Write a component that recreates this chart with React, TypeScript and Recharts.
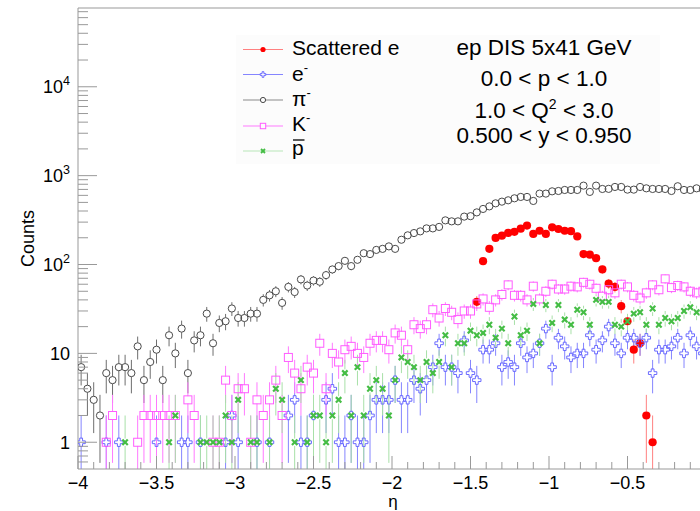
import React from 'react';
import { ScatterChart, Scatter, XAxis, YAxis, ErrorBar, ReferenceLine } from 'recharts';

// histogram binning: 100 bins of width 0.04 in eta, from -4 to 0
const etaCenters: number[] = Array.from({ length: 100 }, (_, i) => Number((-3.98 + 0.04 * i).toFixed(2)));

const scatteredE = [
  0, 0, 0, 0, 0, 0, 0, 0, 0, 0,
  0, 0, 0, 0, 0, 0, 0, 0, 0, 0,
  0, 0, 0, 0, 0, 0, 0, 0, 0, 0,
  0, 0, 0, 0, 0, 0, 0, 0, 0, 0,
  0, 0, 0, 0, 0, 0, 0, 0, 0, 0,
  0, 0, 0, 0, 0, 0, 0, 0, 0, 0,
  0, 0, 0, 38, 109, 150, 199, 211, 227, 233,
  253, 274, 221, 240, 221, 262, 251, 240, 237, 207,
  131, 129, 118, 88, 61, 56, 34, 23, 11, 13,
  2, 1, 0, 0, 0, 0, 0, 0, 0, 0,
];

const electrons = [
  1, 0, 0, 0, 1, 0, 1, 0, 0, 0,
  0, 0, 1, 0, 0, 0, 1, 1, 0, 1,
  0, 0, 0, 1, 2, 1, 0, 0, 1, 0,
  1, 0, 0, 2, 3, 1, 1, 2, 0, 3,
  4, 1, 1, 2, 1, 1, 2, 3, 3, 3,
  5, 3, 3, 5, 4, 5, 7, 13, 7, 7,
  6, 14, 6, 5, 11, 11, 13, 7, 8, 7,
  13, 9, 10, 13, 19, 7, 15, 12, 9, 10,
  10, 16, 11, 14, 20, 13, 10, 15, 15, 13,
  15, 6, 11, 11, 12, 15, 10, 16, 12, 10,
];

const pions = [
  7, 4, 3, 2, 6, 5, 7, 7, 6, 12,
  5, 8, 11, 5, 16, 10, 19, 6, 14, 16,
  28, 13, 22, 23, 32, 25, 25, 28, 28, 40,
  45, 50, 37, 56, 49, 68, 58, 66, 64, 76,
  88, 96, 110, 96, 113, 134, 131, 146, 150, 160,
  150, 190, 213, 226, 236, 255, 255, 265, 314, 306,
  306, 346, 350, 386, 422, 451, 488, 510, 528, 556,
  576, 576, 519, 628, 628, 666, 672, 690, 690, 690,
  772, 656, 772, 708, 710, 746, 746, 696, 696, 746,
  720, 708, 708, 708, 672, 760, 690, 690, 720, 700,
];

const kaons = [
  0, 0, 0, 0, 1, 2, 0, 0, 0, 1,
  2, 2, 2, 2, 2, 2, 0, 3, 2, 0,
  0, 1, 1, 5, 2, 4, 4, 1, 3, 2,
  3, 5, 2, 9, 6, 4, 7, 6, 13, 4,
  10, 8, 11, 12, 10, 9, 13, 14, 14, 11,
  17, 16, 11, 21, 19, 21, 31, 25, 32, 29,
  24, 30, 30, 36, 41, 33, 40, 46, 59, 45,
  45, 40, 57, 41, 50, 60, 53, 53, 57, 56,
  63, 60, 54, 44, 52, 48, 60, 56, 45, 42,
  48, 59, 52, 69, 55, 58, 56, 50, 48, 50,
];

const antiprotons = [
  0, 0, 0, 0, 0, 0, 0, 1, 0, 0,
  0, 0, 0, 0, 1, 2, 0, 0, 0, 1,
  1, 1, 1, 2, 1, 3, 0, 1, 1, 0,
  1, 4, 3, 0, 1, 5, 1, 2, 2, 1,
  2, 3, 6, 2, 7, 2, 4, 5, 4, 2,
  5, 9, 8, 7, 5, 8, 6, 8, 16, 7,
  13, 13, 18, 16, 17, 21, 15, 19, 13, 26,
  16, 18, 36, 13, 35, 22, 35, 24, 21, 31,
  29, 21, 40, 38, 38, 21, 20, 23, 28, 29,
  21, 32, 21, 25, 23, 25, 30, 33, 29, 28,
];

const xTicks: number[] = Array.from({ length: 41 }, (_, i) => Number((-4 + i * 0.1).toFixed(1)));
const yTicks: number[] = (() => {
  const t: number[] = [0.6, 0.7, 0.8, 0.9];
  [1, 10, 100, 1000].forEach((d) => {
    for (let k = 1; k <= 9; k++) t.push(k * d);
  });
  for (let k = 1; k <= 7; k++) t.push(k * 10000);
  return t;
})();

const Y_MIN = 0.5;
const Y_MAX = 77000;
const GAP = 1.1; // marker half-size in log units, error bars stop at the marker edge
const FONT = '"Liberation Sans", Arial, Helvetica, sans-serif';
const AXIS = '#999999';

type Pt = { x: number; y: number; e?: [number, number] };

const points = (vals: number[]): Pt[] =>
  vals.map((v, i) => ({ x: etaCenters[i], y: v })).filter((p) => p.y > 0);

const errUp = (vals: number[]): Pt[] => {
  const out: Pt[] = [];
  vals.forEach((v, i) => {
    if (v <= 0) return;
    const start = v * GAP;
    const end = v + Math.sqrt(v);
    if (end > start) out.push({ x: etaCenters[i], y: start, e: [0, end - start] });
  });
  return out;
};

const errDown = (vals: number[]): Pt[] => {
  const out: Pt[] = [];
  vals.forEach((v, i) => {
    if (v <= 0) return;
    const start = v / GAP;
    const end = Math.max(v - Math.sqrt(v), Y_MIN);
    if (end < start) out.push({ x: etaCenters[i], y: start, e: [start - end, 0] });
  });
  return out;
};

const Empty = () => <g />;

const RedDot = (p: any) => <circle cx={p.cx} cy={p.cy} r={4.1} fill="#ff0000" />;
const OpenCircle = (p: any) => (
  <circle cx={p.cx} cy={p.cy} r={3.6} fill="none" stroke="#4a4a4a" strokeWidth={1} />
);
const crossPath = (x: number, y: number, a: number, w: number) =>
  `M${x - w},${y - a}L${x + w},${y - a}L${x + w},${y - w}L${x + a},${y - w}L${x + a},${y + w}L${x + w},${y + w}L${x + w},${y + a}L${x - w},${y + a}L${x - w},${y + w}L${x - a},${y + w}L${x - a},${y - w}L${x - w},${y - w}Z`;
const OpenCross = (p: any) => (
  <path d={crossPath(p.cx, p.cy, 4.2, 1.4)} fill="none" stroke="#6b6bff" strokeWidth={1} />
);
const OpenSquare = (p: any) => (
  <rect x={p.cx - 4} y={p.cy - 4} width={8} height={8} fill="none" stroke="#ff5cff" strokeWidth={1} />
);
const FilledX = (p: any) => (
  <g stroke="#45bd45" strokeWidth={2.2}>
    <line x1={p.cx - 2.7} y1={p.cy - 2.7} x2={p.cx + 2.7} y2={p.cy + 2.7} />
    <line x1={p.cx - 2.7} y1={p.cy + 2.7} x2={p.cx + 2.7} y2={p.cy - 2.7} />
  </g>
);

const fmtX = (v: number) => {
  const s = String(Number(v.toFixed(1)));
  return s.replace('-', '\u2212');
};

const XTick = (props: any) => {
  const { x, y, payload } = props;
  const v = payload.value as number;
  const major = Math.abs(v * 2 - Math.round(v * 2)) < 1e-6;
  const len = major ? 13 : 7;
  const showLabel = major && v < -0.01;
  return (
    <g>
      <line x1={x} x2={x} y1={y} y2={y - len} stroke={AXIS} strokeWidth={1} />
      {showLabel && (
        <text x={x} y={y + 20} textAnchor="middle" fontSize={18} fill="#000" fontFamily={FONT}>
          {fmtX(v)}
        </text>
      )}
    </g>
  );
};

const YTick = (props: any) => {
  const { x, y, payload } = props;
  const v = payload.value as number;
  const lg = Math.log10(v);
  const n = Math.round(lg);
  const major = Math.abs(lg - n) < 1e-9;
  const len = major ? 19 : 10;
  return (
    <g>
      <line x1={x} x2={x + len} y1={y} y2={y} stroke={AXIS} strokeWidth={1} />
      {major && (
        <text x={x - 8} y={y + 6.5} textAnchor="end" fontSize={18} fill="#000" fontFamily={FONT}>
          {n === 0 ? '1' : n === 1 ? '10' : (
            <>
              10
              <tspan dy={-8} fontSize={12.5}>{n}</tspan>
            </>
          )}
        </text>
      )}
    </g>
  );
};

type Series = { name: string; values: number[]; err: string; shape: any };
const series: Series[] = [
  { name: 'Scattered e', values: scatteredE, err: '#ff8080', shape: RedDot },
  { name: 'e-', values: electrons, err: '#8585ff', shape: OpenCross },
  { name: 'pi-', values: pions, err: '#6e6e6e', shape: OpenCircle },
  { name: 'K-', values: kaons, err: '#ff7aff', shape: OpenSquare },
  { name: 'pbar', values: antiprotons, err: '#a8e0a8', shape: FilledX },
];

export default function App() {
  return (
    <div
      style={{
        position: 'fixed',
        left: 0,
        top: 0,
        width: 700,
        height: 511,
        overflow: 'hidden',
        background: '#fff',
      }}
    >
      <ScatterChart width={720} height={511} margin={{ top: 8, right: 14, bottom: 0, left: 8 }}>
        <XAxis
          type="number"
          dataKey="x"
          domain={[-4, 0]}
          ticks={xTicks}
          interval={0}
          allowDataOverflow
          height={42}
          tickSize={0}
          tickMargin={0}
          tickLine={false}
          axisLine={{ stroke: AXIS }}
          tick={<XTick />}
        />
        <YAxis
          type="number"
          dataKey="y"
          scale="log"
          domain={[Y_MIN, Y_MAX]}
          ticks={yTicks}
          interval={0}
          allowDataOverflow
          width={70}
          tickSize={0}
          tickMargin={0}
          tickLine={false}
          axisLine={{ stroke: AXIS }}
          tick={<YTick />}
        />
        <ReferenceLine y={Y_MAX} stroke={AXIS} />
        {series.map((s) => [
          <Scatter
            key={s.name + '-up'}
            data={errUp(s.values)}
            shape={Empty}
            isAnimationActive={false}
          >
            <ErrorBar dataKey="e" direction="y" width={0} stroke={s.err} strokeWidth={1} isAnimationActive={false} />
          </Scatter>,
          <Scatter
            key={s.name + '-down'}
            data={errDown(s.values)}
            shape={Empty}
            isAnimationActive={false}
          >
            <ErrorBar dataKey="e" direction="y" width={0} stroke={s.err} strokeWidth={1} isAnimationActive={false} />
          </Scatter>,
          <Scatter key={s.name} data={points(s.values)} shape={s.shape} isAnimationActive={false} />,
        ])}
      </ScatterChart>
      <svg
        width={700}
        height={511}
        style={{ position: 'absolute', left: 0, top: 0, pointerEvents: 'none' }}
        fontFamily={FONT}
      >
        <rect x={236} y={35} width={424} height={129} fill="#fcfcfc" />
        {/* legend */}
        <g>
          <line x1={243} x2={283} y1={49.5} y2={49.5} stroke="#ff8080" />
          <circle cx={263} cy={49.5} r={2.6} fill="#ff0000" />
          <line x1={243} x2={283} y1={74.5} y2={74.5} stroke="#8585ff" />
          <path d={crossPath(263, 74.5, 2.8, 0.9)} fill="#fcfcfc" stroke="#6b6bff" />
          <line x1={243} x2={283} y1={100} y2={100} stroke="#8a8a8a" />
          <circle cx={263} cy={100} r={2.6} fill="#fcfcfc" stroke="#4a4a4a" />
          <line x1={243} x2={283} y1={126} y2={126} stroke="#ff7aff" />
          <rect x={260.3} y={123.3} width={5.4} height={5.4} fill="#fcfcfc" stroke="#ff5cff" />
          <line x1={243} x2={283} y1={151} y2={151} stroke="#b8e6b8" />
          <g stroke="#45bd45" strokeWidth={1.8}>
            <line x1={261} y1={149} x2={265} y2={153} />
            <line x1={261} y1={153} x2={265} y2={149} />
          </g>
          <text x={292} y={55} fontSize={21} fill="#000">Scattered e</text>
          <text x={292} y={80.5} fontSize={21} fill="#000">
            e<tspan dy={-9} fontSize={13}>-</tspan>
          </text>
          <text x={292} y={106} fontSize={21} fill="#000">
            π<tspan dy={-9} fontSize={13}>-</tspan>
          </text>
          <text x={292} y={131} fontSize={21} fill="#000">
            K<tspan dy={-9} fontSize={13}>-</tspan>
          </text>
          <line x1={293} x2={304.5} y1={140} y2={140} stroke="#000" strokeWidth={1.3} />
          <text x={292} y={155} fontSize={21} fill="#000">p</text>
        </g>
        {/* info text */}
        <g fontSize={22.5} fill="#000" textAnchor="middle">
          <text x={544} y={55}>ep DIS 5x41 GeV</text>
          <text x={544} y={85.7}>0.0 &lt; p &lt; 1.0</text>
          <text x={544} y={118}>
            1.0 &lt; Q<tspan dy={-9} fontSize={14}>2</tspan>
            <tspan dy={9}> &lt; 3.0</tspan>
          </text>
          <text x={544} y={142.5}>0.500 &lt; y &lt; 0.950</text>
        </g>
        {/* axis titles */}
        <text x={393} y={507} fontSize={17} textAnchor="middle" fill="#000">η</text>
        <text
          x={33.5}
          y={238.5}
          fontSize={18}
          textAnchor="middle"
          fill="#000"
          transform="rotate(-90 33.5 238.5)"
        >
          Counts
        </text>
      </svg>
    </div>
  );
}
